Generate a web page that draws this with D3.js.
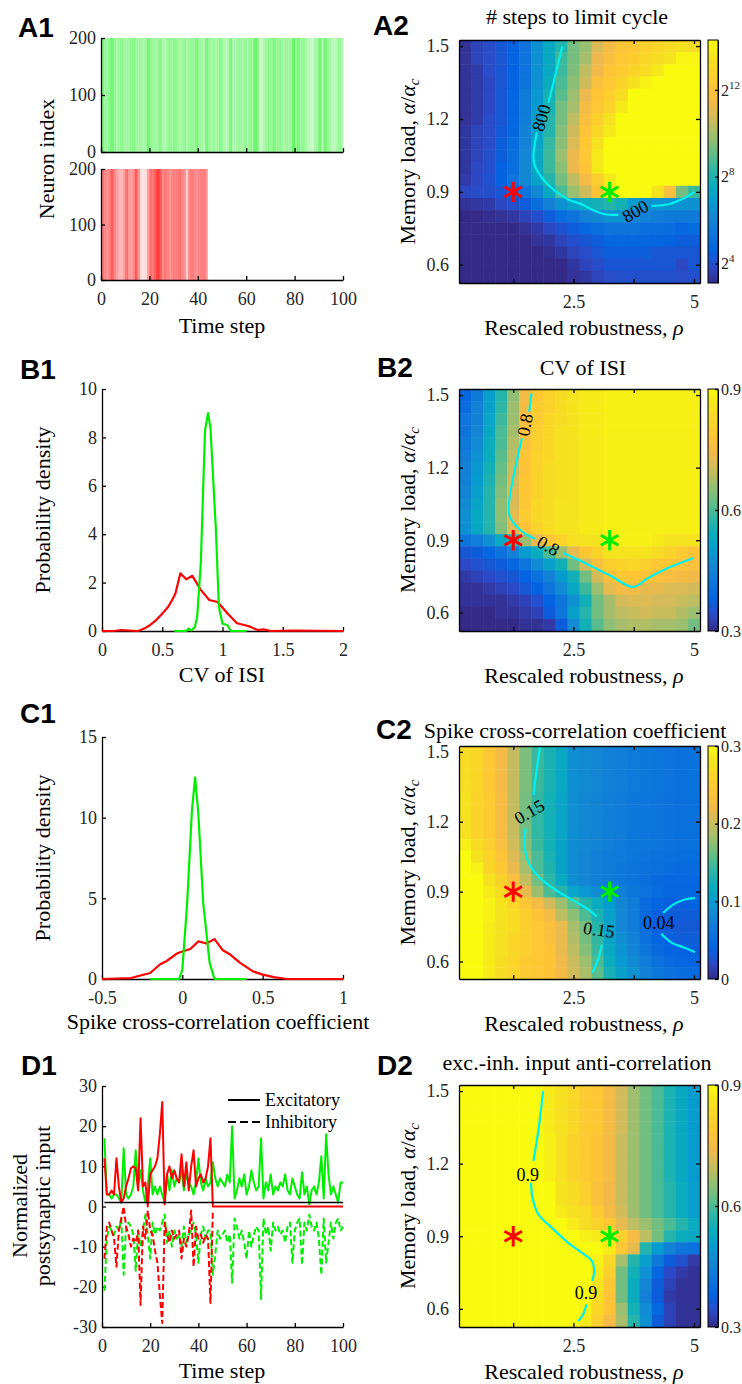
<!DOCTYPE html>
<html>
<head>
<meta charset="utf-8">
<script src="https://cdn.jsdelivr.net/npm/d3@7"></script>
<style>
  body { margin: 0; background: #fff; }
</style>
</head>
<body>
<svg id="fig" width="742" height="1384"></svg>
<script>
// ---------------- data ----------------

// A1: fraction of neurons firing in each time step (read from raster density)
const greenRate = [0.6,0.4,0.4,0.45,0.6,0.45,0.35,0.4,0.45,0.4, 0.35,0.4,0.45,0.5,0.4,0.35,0.4,0.3,0.4,0.6,
  0.45,0.4,0.35,0.4,0.5,0.35,0.3,0.4,0.45,0.4, 0.5,0.4,0.35,0.4,0.45,0.35,0.4,0.45,0.4,0.55,
  0.4,0.35,0.3,0.55,0.45,0.35,0.4,0.35,0.4,0.5, 0.35,0.25,0.35,0.55,0.35,0.3,0.4,0.4,0.35,0.45,
  0.35,0.45,0.4,0.6,0.6,0.2,0.25,0.35,0.4,0.45, 0.4,0.55,0.4,0.45,0.4,0.35,0.4,0.35,0.4,0.65,
  0.45,0.55,0.4,0.45,0.35,0.3,0.25,0.2,0.35,0.4, 0.6,0.3,0.6,0.45,0.35,0.3,0.25,0.35,0.4,0.35];
const redRate = [0.6,0.5,0.45,0.5,0.7,0.5,0.4,0.3,0.25,0.4, 0.6,0.45,0.35,0.5,0.7,0.45,0.15,0.1,0.15,0.4,
  0.6,0.55,0.7,0.85,0.7,0.5,0.55,0.5,0.45,0.5, 0.55,0.5,0.6,0.5,0.45,0.2,0.5,0.55,0.5,0.45,
  0.5,0.5,0.55,0.45];

// B1: CV of ISI densities, [cv, density]
const cvGreen = [[0.6,0],[0.7,0],[0.72,0.1],[0.74,0.02],[0.77,0.15],[0.79,0.6],[0.82,2.8],[0.855,8.3],[0.88,9.0],
  [0.9,8.4],[0.945,4.2],[0.97,1.0],[1.0,0.3],[1.04,0.25],[1.07,0],[1.2,0]];
const cvRed = [[0,0],[0.1,0],[0.16,0.04],[0.22,0.02],[0.3,0],[0.35,0.1],[0.4,0.25],[0.45,0.45],[0.49,0.66],[0.55,1.0],
  [0.59,1.35],[0.61,1.56],[0.65,2.38],[0.7,2.14],[0.75,2.28],[0.82,1.7],[0.89,1.28],[0.96,1.2],[1.04,0.73],
  [1.12,0.32],[1.18,0.25],[1.23,0.18],[1.29,0.04],[1.34,0.07],[1.4,0],[1.6,0.02],[2,0]];

// C1: spike cross-correlation densities, [coef, density]
const ccGreen = [[-0.2,0],[-0.02,0],[0.0,0.58],[0.03,4.7],[0.06,10.5],[0.08,12.5],[0.1,10.2],[0.13,4.7],[0.17,1.0],[0.2,0],[0.4,0]];
const ccRed = [[-0.5,0],[-0.32,0.06],[-0.2,0.37],[-0.14,0.9],[-0.1,1.1],[-0.03,1.6],[0.0,1.7],[0.05,1.86],[0.1,2.33],
  [0.15,2.2],[0.2,2.47],[0.25,1.8],[0.3,1.5],[0.36,1.0],[0.44,0.47],[0.5,0.27],[0.57,0.12],[0.65,0],[1,0]];

// D1: normalized postsynaptic input per time step (t = 1..100)
const greenExc = [17,3,3,2,3,3,2,1,14.5,3, 2,3,5,14,5,9,4,1,5,12, 3,5,3,5,3,1,8,4,9,5, 7,6,9,4,8,6,5,3,6,12,
  6,4,7,5,6,11,7,5,7,6, 5,8,6,20,2,4,7,5,8,3, 5,9,6,4,5,17,2,6,4,8, 3,5,4,6,5,8,4,3,7,5,
  3,2,8.5,3,5,0.5,4,5,3,6, 12.5,2,18,8,3,5,3,1,6,6];
const greenInh = [-21,-8,-5,-6,-7,-5,-6,-3,-17,-5, -4,-5,-7,-16,-6,-10,-6,-2,-7,-13, -4,-7,-5,-6,-4,-2,-9,-6,-10,-6,
  -8,-7,-10,-5,-9,-7,-6,-4,-7,-14, -7,-5,-8,-6,-6,-17,-12,-6,-8,-7, -6,-9,-7,-19,-3,-5,-8,-6,-9,-13,
  -6,-10,-7,-5,-6,-23,-3,-7,-5,-11, -4,-6,-5,-7,-6,-9,-5,-4,-14,-6, -4,-3,-14.5,-4,-6,-2,-5,-6,-4,-8,
  -17,-3,-14,-9,-4,-8,-4,-3,-6,-5];
const redExc = [12,3,3,4,3,12,5,1,2,5, 7,9.5,10,9.5,4,22,5,6,0,8, 9,10,12,18,26,0.5,8,10,7,9,
  7,6,13,5,11,4,10,14,5,7, 8,6,7,10,17,0,0,0,0,0, 0,0,0,0,0,0,0,0,0,0, 0,0,0,0,0,0,0,0,0,0,
  0,0,0,0,0,0,0,0,0,0, 0,0,0,0,0,0,0,0,0,0, 0,0,0,0,0,0,0,0,0,0];
const redInh = [-13,-5,-4,-6,-8,-15,-6,-3,0,-5, -7,-10,-8,-9,-6,-24.5,-5,-8,-1,-6,
  -7,-11,-14,-22,-29,-4,-7,-9,-6,-8, -7,-6,-13,-8,-10,-7,-1,-15,-5,-8, -7,-9,-7,-8,-24,-1];
const refLevel = 1;

// phase diagrams: cell centres
const rho = [0.25,0.5,0.75,1,1.25,1.5,1.75,2,2.25,2.5,2.75,3,3.25,3.5,3.75,4,4.25,4.5,4.75,5];
const alpha = [1.5,1.45,1.4,1.35,1.3,1.25,1.2,1.15,1.1,1.05,1.0,0.95,0.9,0.85,0.8,0.75,0.7,0.65,0.6,0.55];
const rhoTicks = [1.25,2.5,3.75,5];
const rhoTickLabels = ["","2.5","","5"];
const alphaTicks = [0.6,0.9,1.2,1.5];
const starRed = [1.25,0.9];
const starGreen = [3.25,0.9];

// A2: log2(# steps to limit cycle), rows from alpha = 1.5 down to 0.55
const limitCycle = [
  [3.3,3.7,3.9,4.2,4.6,5.3,6.5,7.4,8.1,9.3,9.8,10.9,11.5,12.1,12.3,12.6,13.0,13.2,13.4,13.2],
  [3.3,3.7,3.9,4.2,4.6,5.3,6.5,7.4,8.5,9.3,10.0,11.2,11.8,12.3,12.5,13.0,13.2,13.5,14.1,14.1],
  [3.3,3.5,3.9,4.2,4.6,5.3,6.5,7.4,8.5,9.4,10.4,11.3,12.1,12.4,12.8,13.2,13.7,14.3,14.3,14.3],
  [3.3,3.5,3.8,4.2,4.6,5.3,6.5,7.6,8.7,9.6,10.7,11.8,12.3,12.8,13.4,14.0,14.3,14.3,14.3,14.3],
  [3.3,3.5,3.8,4.2,4.7,5.6,6.7,7.8,8.9,9.8,11.2,12.1,12.6,13.2,14.3,14.3,14.3,14.3,14.3,14.3],
  [3.3,3.5,3.8,4.2,4.8,5.6,6.8,7.9,9.3,10.0,11.5,12.3,12.8,13.7,14.3,14.3,14.3,14.3,14.3,14.3],
  [3.3,3.5,3.9,4.2,4.8,5.7,7.0,8.1,9.3,10.4,11.8,12.6,13.4,14.3,14.3,14.3,14.3,14.3,14.3,14.3],
  [3.4,3.7,3.9,4.3,4.8,5.9,7.1,8.1,9.5,10.7,12.1,13.0,13.7,14.3,14.3,14.3,14.3,14.3,14.3,14.3],
  [3.4,3.7,3.9,4.4,5.0,5.9,7.2,8.4,9.6,10.9,12.3,13.4,14.3,14.3,14.3,14.3,14.3,14.3,14.3,14.3],
  [3.4,3.7,4.0,4.4,5.1,6.1,7.4,8.5,9.8,11.2,12.3,13.7,14.3,14.3,14.3,14.3,14.3,14.3,14.3,14.3],
  [3.4,3.8,4.0,4.6,5.1,6.2,7.4,8.5,9.6,11.2,12.1,13.7,14.3,14.3,14.3,14.3,14.3,14.3,14.3,14.3],
  [3.5,3.8,4.1,4.6,5.3,6.2,7.1,8.1,9.3,10.4,11.5,12.6,13.7,14.3,14.3,14.3,14.3,14.3,14.3,14.3],
  [3.8,3.9,4.0,4.2,4.7,5.3,6.2,7.4,8.7,9.8,10.7,12.1,13.2,14.3,14.3,14.3,13.5,11.8,9.3,8.5],
  [3.3,3.4,3.5,3.8,4.0,4.4,5.1,5.9,6.5,7.0,7.6,7.8,8.1,7.8,6.8,6.5,6.5,6.5,6.5,6.5],
  [3.1,3.1,3.2,3.3,3.4,3.7,4.0,4.4,5.0,5.3,5.9,6.2,6.5,6.5,6.1,5.9,5.8,5.6,5.6,5.6],
  [3.1,3.1,3.1,3.1,3.1,3.3,3.5,3.8,4.1,4.4,4.8,5.1,5.3,5.3,5.3,5.1,5.1,5.0,4.8,5.0],
  [3.1,3.1,3.1,3.1,3.1,3.1,3.3,3.4,3.7,4.0,4.2,4.4,4.8,4.8,4.8,4.7,4.7,4.6,4.4,4.4],
  [3.1,3.1,3.1,3.1,3.1,3.1,3.1,3.2,3.4,3.7,3.9,4.2,4.4,4.4,4.4,4.4,4.2,4.2,4.2,4.2],
  [3.1,3.1,3.1,3.1,3.1,3.1,3.1,3.1,3.1,3.4,3.7,3.9,4.2,4.2,4.2,4.2,4.2,4.2,3.8,4.2],
  [3.1,3.1,3.1,3.1,3.1,3.1,3.1,3.1,3.1,3.3,3.4,3.7,3.9,4.0,4.0,4.0,4.0,4.0,3.9,4.0]];

// B2: CV of ISI
const cvGrid = [
  [0.39,0.43,0.51,0.57,0.65,0.75,0.79,0.82,0.84,0.86,0.87,0.87,0.88,0.88,0.88,0.88,0.88,0.88,0.88,0.88],
  [0.40,0.45,0.51,0.58,0.66,0.75,0.80,0.82,0.84,0.86,0.87,0.87,0.88,0.88,0.88,0.88,0.88,0.88,0.88,0.88],
  [0.42,0.45,0.52,0.59,0.66,0.76,0.80,0.83,0.84,0.86,0.87,0.87,0.88,0.88,0.88,0.88,0.88,0.88,0.88,0.88],
  [0.42,0.46,0.53,0.60,0.67,0.77,0.81,0.83,0.85,0.86,0.87,0.87,0.88,0.88,0.88,0.88,0.88,0.88,0.88,0.88],
  [0.43,0.47,0.54,0.60,0.68,0.77,0.81,0.83,0.85,0.86,0.87,0.87,0.88,0.88,0.88,0.88,0.88,0.88,0.88,0.88],
  [0.44,0.48,0.54,0.61,0.69,0.78,0.82,0.83,0.85,0.86,0.87,0.87,0.88,0.88,0.88,0.88,0.88,0.88,0.88,0.88],
  [0.45,0.49,0.55,0.62,0.70,0.78,0.82,0.84,0.85,0.86,0.87,0.87,0.88,0.88,0.88,0.88,0.88,0.88,0.88,0.88],
  [0.45,0.50,0.56,0.63,0.71,0.79,0.82,0.84,0.85,0.86,0.87,0.87,0.88,0.88,0.88,0.88,0.88,0.88,0.88,0.88],
  [0.46,0.51,0.57,0.64,0.72,0.79,0.82,0.84,0.85,0.86,0.87,0.87,0.88,0.88,0.88,0.88,0.88,0.88,0.88,0.88],
  [0.47,0.52,0.57,0.65,0.72,0.79,0.83,0.84,0.86,0.86,0.87,0.87,0.88,0.88,0.88,0.88,0.88,0.88,0.88,0.88],
  [0.48,0.53,0.57,0.65,0.73,0.80,0.83,0.84,0.86,0.86,0.87,0.87,0.88,0.88,0.88,0.88,0.88,0.88,0.88,0.88],
  [0.48,0.53,0.57,0.64,0.72,0.78,0.82,0.84,0.86,0.86,0.87,0.87,0.88,0.88,0.88,0.88,0.88,0.88,0.88,0.88],
  [0.42,0.44,0.48,0.53,0.57,0.66,0.73,0.79,0.82,0.85,0.86,0.86,0.87,0.88,0.88,0.88,0.87,0.86,0.86,0.86],
  [0.36,0.37,0.39,0.41,0.45,0.50,0.54,0.60,0.66,0.73,0.79,0.82,0.86,0.86,0.86,0.86,0.84,0.82,0.80,0.78],
  [0.34,0.35,0.36,0.37,0.39,0.42,0.47,0.51,0.55,0.63,0.71,0.77,0.81,0.82,0.83,0.81,0.79,0.79,0.78,0.77],
  [0.32,0.33,0.34,0.35,0.36,0.38,0.41,0.45,0.50,0.55,0.63,0.71,0.77,0.79,0.79,0.78,0.77,0.76,0.75,0.74],
  [0.31,0.31,0.32,0.33,0.34,0.36,0.38,0.42,0.47,0.53,0.59,0.66,0.73,0.75,0.75,0.73,0.73,0.72,0.72,0.71],
  [0.31,0.31,0.31,0.31,0.32,0.33,0.35,0.38,0.42,0.48,0.55,0.63,0.67,0.71,0.72,0.72,0.71,0.71,0.70,0.69],
  [0.30,0.30,0.30,0.31,0.31,0.32,0.33,0.37,0.42,0.51,0.57,0.63,0.67,0.69,0.70,0.71,0.70,0.70,0.68,0.66],
  [0.30,0.30,0.30,0.30,0.30,0.31,0.31,0.32,0.37,0.47,0.55,0.61,0.65,0.67,0.68,0.68,0.67,0.67,0.66,0.63]];

// C2: spike cross-correlation coefficient
const ccGrid = [
  [0.270,0.264,0.246,0.225,0.198,0.168,0.144,0.129,0.114,0.089,0.084,0.079,0.074,0.071,0.066,0.064,0.061,0.059,0.056,0.056],
  [0.270,0.264,0.246,0.225,0.198,0.168,0.144,0.129,0.114,0.089,0.084,0.079,0.074,0.071,0.066,0.064,0.061,0.059,0.056,0.056],
  [0.270,0.264,0.246,0.225,0.198,0.168,0.144,0.129,0.114,0.089,0.084,0.079,0.074,0.071,0.066,0.064,0.061,0.059,0.056,0.056],
  [0.273,0.264,0.246,0.225,0.198,0.168,0.144,0.129,0.114,0.089,0.084,0.079,0.074,0.071,0.066,0.064,0.061,0.059,0.056,0.056],
  [0.276,0.261,0.249,0.228,0.198,0.165,0.141,0.126,0.110,0.089,0.082,0.077,0.071,0.069,0.064,0.061,0.059,0.056,0.054,0.054],
  [0.276,0.261,0.249,0.228,0.198,0.165,0.141,0.126,0.110,0.089,0.082,0.077,0.071,0.069,0.064,0.061,0.059,0.056,0.054,0.054],
  [0.276,0.261,0.249,0.228,0.198,0.165,0.141,0.126,0.110,0.089,0.082,0.077,0.071,0.069,0.064,0.061,0.059,0.056,0.054,0.054],
  [0.276,0.261,0.249,0.228,0.198,0.165,0.141,0.126,0.110,0.089,0.082,0.077,0.071,0.069,0.064,0.061,0.059,0.056,0.054,0.054],
  [0.288,0.270,0.255,0.231,0.204,0.171,0.144,0.126,0.108,0.087,0.082,0.077,0.071,0.066,0.064,0.061,0.059,0.056,0.054,0.054],
  [0.300,0.276,0.261,0.240,0.210,0.180,0.150,0.129,0.108,0.087,0.079,0.074,0.069,0.066,0.061,0.059,0.056,0.054,0.051,0.051],
  [0.300,0.291,0.264,0.246,0.216,0.186,0.150,0.132,0.108,0.087,0.079,0.074,0.069,0.064,0.059,0.056,0.054,0.051,0.048,0.048],
  [0.300,0.300,0.276,0.258,0.231,0.198,0.165,0.138,0.115,0.089,0.079,0.074,0.069,0.064,0.059,0.054,0.048,0.046,0.046,0.046],
  [0.300,0.300,0.285,0.270,0.255,0.216,0.180,0.150,0.135,0.110,0.095,0.086,0.079,0.071,0.063,0.057,0.051,0.044,0.044,0.044],
  [0.300,0.300,0.291,0.279,0.264,0.246,0.225,0.204,0.180,0.156,0.135,0.120,0.100,0.082,0.068,0.050,0.042,0.037,0.037,0.040],
  [0.300,0.300,0.291,0.279,0.270,0.255,0.240,0.225,0.195,0.174,0.150,0.129,0.105,0.082,0.068,0.048,0.037,0.034,0.034,0.034],
  [0.300,0.300,0.285,0.276,0.270,0.255,0.246,0.234,0.216,0.186,0.165,0.135,0.108,0.082,0.068,0.050,0.037,0.034,0.031,0.031],
  [0.300,0.300,0.285,0.276,0.264,0.255,0.246,0.234,0.216,0.189,0.165,0.141,0.110,0.088,0.074,0.056,0.042,0.037,0.034,0.034],
  [0.300,0.300,0.285,0.276,0.264,0.255,0.246,0.240,0.216,0.195,0.171,0.144,0.115,0.092,0.078,0.062,0.048,0.042,0.040,0.037],
  [0.300,0.300,0.285,0.270,0.264,0.249,0.246,0.240,0.219,0.201,0.180,0.150,0.120,0.098,0.084,0.070,0.056,0.048,0.045,0.042],
  [0.300,0.300,0.285,0.270,0.264,0.249,0.246,0.240,0.225,0.204,0.186,0.156,0.128,0.106,0.090,0.076,0.062,0.056,0.051,0.048]];

// D2: exc.-inh. input anti-correlation
const eiGrid = [
  [0.92,0.92,0.92,0.92,0.92,0.92,0.92,0.87,0.85,0.83,0.80,0.79,0.75,0.71,0.66,0.63,0.60,0.56,0.53,0.50],
  [0.92,0.92,0.92,0.92,0.92,0.92,0.92,0.87,0.85,0.83,0.80,0.79,0.75,0.71,0.66,0.63,0.60,0.56,0.53,0.50],
  [0.92,0.92,0.92,0.92,0.92,0.92,0.92,0.87,0.85,0.83,0.80,0.79,0.75,0.71,0.66,0.63,0.60,0.56,0.53,0.50],
  [0.92,0.92,0.92,0.92,0.92,0.92,0.92,0.87,0.85,0.83,0.80,0.79,0.75,0.71,0.66,0.63,0.60,0.56,0.53,0.50],
  [0.92,0.92,0.92,0.92,0.92,0.92,0.92,0.88,0.85,0.82,0.80,0.78,0.75,0.70,0.66,0.63,0.60,0.56,0.53,0.50],
  [0.92,0.92,0.92,0.92,0.92,0.92,0.92,0.88,0.85,0.82,0.80,0.78,0.75,0.70,0.66,0.63,0.60,0.56,0.53,0.50],
  [0.92,0.92,0.92,0.92,0.92,0.92,0.92,0.88,0.85,0.82,0.80,0.78,0.75,0.70,0.66,0.63,0.60,0.56,0.53,0.50],
  [0.92,0.92,0.92,0.92,0.92,0.92,0.92,0.88,0.85,0.82,0.80,0.78,0.75,0.70,0.66,0.63,0.60,0.56,0.53,0.50],
  [0.92,0.92,0.92,0.92,0.92,0.92,0.92,0.92,0.86,0.84,0.81,0.77,0.74,0.70,0.66,0.63,0.60,0.57,0.54,0.51],
  [0.92,0.92,0.92,0.92,0.92,0.92,0.92,0.92,0.86,0.84,0.81,0.77,0.74,0.70,0.66,0.63,0.60,0.57,0.54,0.51],
  [0.92,0.92,0.92,0.92,0.92,0.92,0.92,0.92,0.87,0.85,0.84,0.80,0.75,0.71,0.66,0.63,0.60,0.57,0.54,0.51],
  [0.92,0.92,0.92,0.92,0.92,0.92,0.92,0.92,0.92,0.87,0.84,0.82,0.79,0.73,0.69,0.66,0.63,0.60,0.57,0.54],
  [0.92,0.92,0.92,0.92,0.92,0.92,0.92,0.92,0.92,0.92,0.88,0.87,0.86,0.81,0.75,0.69,0.63,0.57,0.54,0.53],
  [0.92,0.92,0.92,0.92,0.92,0.92,0.92,0.92,0.92,0.92,0.92,0.90,0.87,0.79,0.73,0.57,0.50,0.45,0.42,0.41],
  [0.92,0.92,0.92,0.92,0.92,0.92,0.92,0.92,0.92,0.92,0.92,0.88,0.83,0.67,0.57,0.51,0.43,0.37,0.35,0.32],
  [0.92,0.92,0.92,0.92,0.92,0.92,0.92,0.92,0.92,0.92,0.92,0.87,0.81,0.63,0.55,0.48,0.39,0.34,0.32,0.31],
  [0.92,0.92,0.92,0.92,0.92,0.92,0.92,0.92,0.92,0.92,0.92,0.86,0.79,0.63,0.54,0.46,0.37,0.33,0.31,0.31],
  [0.92,0.92,0.92,0.92,0.92,0.92,0.92,0.92,0.92,0.92,0.92,0.84,0.78,0.63,0.54,0.45,0.37,0.32,0.31,0.31],
  [0.92,0.92,0.92,0.92,0.92,0.92,0.92,0.92,0.92,0.92,0.88,0.83,0.78,0.66,0.55,0.47,0.39,0.33,0.31,0.31],
  [0.92,0.92,0.92,0.92,0.92,0.92,0.92,0.92,0.92,0.92,0.87,0.81,0.75,0.67,0.57,0.48,0.37,0.33,0.31,0.31]];

// contour lines, [rho, alpha]; null = gap for the label
const contourA2 = [[[2.27,1.50],[2.12,1.377],[1.98,1.267],null,[1.74,1.144],[1.67,1.048],[1.70,1.006],[1.87,0.952],
  [2.12,0.904],[2.39,0.869],[2.67,0.849],[2.95,0.821],[3.15,0.808],[3.43,0.805],null,[4.12,0.842],[4.47,0.849],[4.81,0.876],[5.01,0.90]]];
const labelsA2 = [["800",1.83,1.205,-73],["800",3.78,0.821,-30]];
const contourB2 = [[[1.63,1.507],[1.58,1.431],null,[1.43,1.322],[1.32,1.225],[1.22,1.129],[1.16,1.047],[1.18,0.998],
  [1.32,0.957],[1.53,0.923],[1.70,0.906],null,[2.29,0.847],[2.81,0.799],[3.29,0.751],[3.74,0.707],[4.05,0.744],[4.47,0.786],[4.99,0.827]]];
const labelsB2 = [["0.8",1.49,1.377,-80],["0.8",1.98,0.878,30]];
const contourC2 = [
  [[1.81,1.525],[1.74,1.428],[1.67,1.314],null,[1.51,1.171],[1.48,1.115],[1.56,1.029],[1.77,0.965],[2.12,0.908],
   [2.53,0.858],[2.81,0.823],[2.98,0.794],null,[3.09,0.673],[3.02,0.616],[2.89,0.552]],
  [[5.02,0.872],[4.81,0.866],[4.57,0.844],[4.36,0.808],null,[4.32,0.719],[4.54,0.680],[4.81,0.659],[5.02,0.640]]];
const labelsC2 = [["0.15",1.58,1.243,-30],["0.15",3.03,0.737,8],["0.04",4.27,0.766,0]];
const contourD2 = [[[1.87,1.50],[1.77,1.335],[1.67,1.211],null,[1.62,1.121],[1.65,1.059],[1.77,0.991],[2.05,0.935],
  [2.39,0.873],[2.67,0.832],[2.88,0.798],[2.93,0.756],[2.89,0.715],null,[2.77,0.619],[2.70,0.577],[2.60,0.550]]];
const labelsD2 = [["0.9",1.55,1.153,0],["0.9",2.76,0.667,0]];

// MATLAB parula colormap stops
const parulaStops = ["#352a87","#2c4ac7","#0363e1","#0d75dc","#1485d4","#079ccf","#0aacbe","#2eb7a4",
  "#65be86","#9bbf6f","#c8bc5d","#f1b94a","#fec337","#fad32a","#f5e41d","#f9fb0e"];

// ---------------- drawing ----------------
const svg = d3.select("#fig");
const SERIF = '"Liberation Serif","Times New Roman",serif';
const GREEN = "#00ee00", RED = "#ff0000", CYAN = "#00f0f0";
const parula = d3.piecewise(d3.interpolateRgb, parulaStops);

svg.append("rect").attr("width", 742).attr("height", 1384).attr("fill", "#fff");

const grad = svg.append("defs").append("linearGradient").attr("id", "parulaGrad")
  .attr("x1", 0).attr("y1", 1).attr("x2", 0).attr("y2", 0);
parulaStops.forEach((c, i) => grad.append("stop").attr("offset", i / (parulaStops.length - 1)).attr("stop-color", c));

function styleAxis(sel) {
  sel.attr("font-family", SERIF).attr("font-size", 18);
  sel.select(".domain").attr("stroke", "#000").attr("stroke-width", 1.3);
  sel.selectAll(".tick line").attr("stroke", "#000").attr("stroke-width", 1.3);
  sel.selectAll(".tick text").attr("fill", "#262626");
}

function panelLetter(txt, x, y) {
  svg.append("text").attr("x", x).attr("y", y).attr("font-family", '"Liberation Sans",Arial,sans-serif')
    .attr("font-weight", "bold").attr("font-size", 28).attr("fill", "#000").text(txt);
}

function label(txt, x, y, rot) {
  return svg.append("text").attr("transform", `translate(${x},${y})` + (rot ? ` rotate(${rot})` : ""))
    .attr("text-anchor", "middle").attr("font-family", SERIF).attr("font-size", 22).attr("fill", "#000").text(txt);
}

// ---- A1 raster ----
const xT = d3.scaleLinear().domain([0, 100]).range([101, 343]);
function raster(rates, color, top, bottom, showLabels) {
  const y = d3.scaleLinear().domain([0, 200]).range([bottom, top]);
  const g = svg.append("g");
  g.selectAll("rect").data(rates).join("rect")
    .attr("x", (d, i) => xT(i)).attr("width", xT(1) - xT(0) + 0.3)
    .attr("y", y(200)).attr("height", y(0) - y(200))
    .attr("fill", color).attr("fill-opacity", d => Math.min(1, d * 0.9));
  g.append("g").attr("transform", `translate(0,${bottom})`)
    .call(d3.axisBottom(xT).tickValues([0,20,40,60,80,100]).tickSize(-4).tickSizeOuter(0).tickPadding(12)
      .tickFormat(showLabels ? d => String(d) : () => ""))
    .call(styleAxis);
  g.append("g").attr("transform", `translate(${xT(0)},0)`)
    .call(d3.axisLeft(y).tickValues([0,100,200]).tickSize(-4).tickSizeOuter(0).tickPadding(5))
    .call(styleAxis);
}
raster(greenRate, GREEN, 38, 152, false);
raster(redRate, RED, 169, 280, true);
label("Neuron index", 54, 159, -90);
label("Time step", 222, 333);
panelLetter("A1", 18, 37);

// ---- density panels B1, C1 ----
function densityPanel(cfg) {
  const x = d3.scaleLinear().domain(cfg.xDomain).range([102, 343]);
  const y = d3.scaleLinear().domain(cfg.yDomain).range([cfg.bottom, cfg.top]);
  const g = svg.append("g");
  g.append("g").attr("transform", `translate(0,${cfg.bottom})`)
    .call(d3.axisBottom(x).tickValues(cfg.xTicks).tickSize(-4).tickSizeOuter(0).tickPadding(12).tickFormat(d => String(d)))
    .call(styleAxis);
  g.append("g").attr("transform", `translate(102,0)`)
    .call(d3.axisLeft(y).tickValues(cfg.yTicks).tickSize(-4).tickSizeOuter(0).tickPadding(5).tickFormat(d => String(d)))
    .call(styleAxis);
  const line = d3.line().x(d => x(d[0])).y(d => y(d[1]));
  cfg.series.forEach(s => g.append("path").attr("d", line(s.data)).attr("fill", "none")
    .attr("stroke", s.color).attr("stroke-width", 2.2).attr("stroke-linejoin", "round"));
}
densityPanel({xDomain: [0, 2], yDomain: [0, 10], top: 389, bottom: 631,
  xTicks: [0,0.5,1,1.5,2], yTicks: [0,2,4,6,8,10],
  series: [{data: cvRed, color: RED}, {data: cvGreen, color: GREEN}]});
label("Probability density", 50, 510, -90);
label("CV of ISI", 222, 682);
panelLetter("B1", 20, 379);

densityPanel({xDomain: [-0.5, 1], yDomain: [0, 15], top: 737, bottom: 979,
  xTicks: [-0.5,0,0.5,1], yTicks: [0,5,10,15],
  series: [{data: ccRed, color: RED}, {data: ccGreen, color: GREEN}]});
label("Probability density", 50, 858, -90);
label("Spike cross-correlation coefficient", 218, 1029);
panelLetter("C1", 20, 723);

// ---- D1 input traces ----
(function () {
  const x = d3.scaleLinear().domain([0, 100]).range([102, 343]);
  const y = d3.scaleLinear().domain([-30, 30]).range([1327, 1086]);
  const g = svg.append("g");
  g.append("g").attr("transform", `translate(0,1327)`)
    .call(d3.axisBottom(x).tickValues([0,20,40,60,80,100]).tickSize(-4).tickSizeOuter(0).tickPadding(12))
    .call(styleAxis);
  g.append("g").attr("transform", `translate(102,0)`)
    .call(d3.axisLeft(y).tickValues([-30,-20,-10,0,10,20,30]).tickSize(-4).tickSizeOuter(0).tickPadding(5).tickFormat(d => String(d)))
    .call(styleAxis);
  const line = d3.line().x((d, i) => x(i + 1)).y(d => y(d));
  const trace = (data, color, dashed) => g.append("path").attr("d", line(data)).attr("fill", "none")
    .attr("stroke", color).attr("stroke-width", 2).attr("stroke-linejoin", "round")
    .attr("stroke-dasharray", dashed ? "6,3" : null);
  trace(greenInh, GREEN, true);
  trace(greenExc, GREEN, false);
  trace(redInh, RED, true);
  trace(redExc, RED, false);
  g.append("line").attr("x1", x(1)).attr("x2", x(100)).attr("y1", y(refLevel)).attr("y2", y(refLevel))
    .attr("stroke", "#000").attr("stroke-width", 1.5);
  // legend
  const lg = g.append("g").attr("font-family", SERIF).attr("font-size", 18);
  lg.append("line").attr("x1", 228).attr("x2", 260).attr("y1", 1100).attr("y2", 1100).attr("stroke", "#000").attr("stroke-width", 2);
  lg.append("text").attr("x", 265).attr("y", 1106).text("Excitatory");
  lg.append("line").attr("x1", 228).attr("x2", 260).attr("y1", 1122).attr("y2", 1122).attr("stroke", "#000")
    .attr("stroke-width", 2).attr("stroke-dasharray", "8,4");
  lg.append("text").attr("x", 265).attr("y", 1128).text("Inhibitory");
})();
label("Normalized", 27, 1206, -90);
label("postsynaptic input", 50, 1206, -90);
label("Time step", 222, 1378);
panelLetter("D1", 21, 1075);

// ---- phase diagrams ----
function phasePanel(p) {
  const x = d3.scaleLinear().domain([0.125, 5.125]).range([459, 700]);
  const y = d3.scaleLinear().domain([0.525, 1.525]).range([p.bottom, p.top]);
  const color = d3.scaleSequential(parula).domain(p.domain).clamp(true);
  const cells = [];
  p.grid.forEach((row, i) => row.forEach((v, j) => cells.push({r: rho[j], a: alpha[i], v})));
  const g = svg.append("g");
  g.selectAll("rect").data(cells).join("rect")
    .attr("x", d => x(d.r - 0.125)).attr("y", d => y(d.a + 0.025))
    .attr("width", d => x(d.r + 0.125) - x(d.r - 0.125) + 0.5)
    .attr("height", d => y(d.a - 0.025) - y(d.a + 0.025) + 0.5)
    .attr("fill", d => color(d.v));

  const line = d3.line().defined(d => d !== null).x(d => x(d[0])).y(d => y(d[1])).curve(d3.curveCatmullRom);
  p.contours.forEach(c => g.append("path").attr("d", line(c)).attr("fill", "none")
    .attr("stroke", CYAN).attr("stroke-width", 2.2));
  p.labels.forEach(l => g.append("text")
    .attr("transform", `translate(${x(l[1])},${y(l[2])}) rotate(${l[3]})`)
    .attr("text-anchor", "middle").attr("dy", "0.35em")
    .attr("font-family", SERIF).attr("font-size", 18).attr("fill", "#000").text(l[0]));

  const star = d3.symbol().type(d3.symbolAsterisk).size(290);
  [[starRed, RED], [starGreen, GREEN]].forEach(([s, c]) => g.append("path").attr("d", star())
    .attr("transform", `translate(${x(s[0])},${y(s[1])})`)
    .attr("fill", "none").attr("stroke", c).attr("stroke-width", 3));

  // box with inward ticks
  g.append("g").attr("transform", `translate(0,${p.bottom})`)
    .call(d3.axisBottom(x).tickValues(rhoTicks).tickSize(-4).tickSizeOuter(0).tickPadding(12)
      .tickFormat((d, i) => rhoTickLabels[i])).call(styleAxis);
  g.append("g").attr("transform", `translate(0,${p.top})`)
    .call(d3.axisTop(x).tickValues(rhoTicks).tickSize(-4).tickSizeOuter(0).tickFormat(() => "")).call(styleAxis);
  g.append("g").attr("transform", `translate(459,0)`)
    .call(d3.axisLeft(y).tickValues(alphaTicks).tickSize(-4).tickSizeOuter(0).tickPadding(10)
      .tickFormat(d3.format(".1f"))).call(styleAxis);
  g.append("g").attr("transform", `translate(700,0)`)
    .call(d3.axisRight(y).tickValues(alphaTicks).tickSize(-4).tickSizeOuter(0).tickFormat(() => "")).call(styleAxis);

  // colour bar
  const cb = d3.scaleLinear().domain(p.domain).range([p.bottom, p.top]);
  g.append("rect").attr("x", 708).attr("y", p.top).attr("width", 10).attr("height", p.bottom - p.top)
    .attr("fill", "url(#parulaGrad)").attr("stroke", "#000").attr("stroke-width", 1);
  const cbAxis = g.append("g").attr("transform", `translate(718,0)`)
    .call(d3.axisRight(cb).tickValues(p.cbTicks).tickSize(-3).tickSizeOuter(0).tickPadding(3)
      .tickFormat(d => String(d))).call(styleAxis);
  cbAxis.attr("font-size", 16);
  cbAxis.select(".domain").attr("stroke-width", 1);
  if (p.pow2) {
    cbAxis.selectAll(".tick text").text(null).each(function (d) {
      const t = d3.select(this);
      t.append("tspan").text("2");
      t.append("tspan").attr("dy", -7).attr("font-size", 11).text(d);
    });
  }

  // labels
  const yl = svg.append("text").attr("transform", `translate(415,${(p.top + p.bottom) / 2}) rotate(-90)`)
    .attr("text-anchor", "middle").attr("font-family", SERIF).attr("font-size", 22).attr("fill", "#000");
  yl.append("tspan").text("Memory load, ");
  yl.append("tspan").attr("font-style", "italic").text("α");
  yl.append("tspan").text("/");
  yl.append("tspan").attr("font-style", "italic").text("α");
  yl.append("tspan").attr("font-style", "italic").attr("font-size", 15).attr("dy", 4).text("c");
  const xl = svg.append("text").attr("x", 584).attr("y", p.bottom + 52)
    .attr("text-anchor", "middle").attr("font-family", SERIF).attr("font-size", 22).attr("fill", "#000");
  xl.append("tspan").text("Rescaled robustness, ");
  xl.append("tspan").attr("font-style", "italic").text("ρ");
  label(p.title, p.titleX || 577, p.titleY);
}

phasePanel({grid: limitCycle, domain: [3.1, 14.3], top: 40, bottom: 283, cbTicks: [4, 8, 12], pow2: true,
  contours: contourA2, labels: labelsA2, title: "# steps to limit cycle", titleY: 24});
panelLetter("A2", 373, 35);

phasePanel({grid: cvGrid, domain: [0.3, 0.9], top: 389, bottom: 631, cbTicks: [0.3, 0.6, 0.9],
  contours: contourB2, labels: labelsB2, title: "CV of ISI", titleX: 583, titleY: 375});
panelLetter("B2", 377, 377);

phasePanel({grid: ccGrid, domain: [0, 0.3], top: 746, bottom: 979, cbTicks: [0, 0.1, 0.2, 0.3],
  contours: contourC2, labels: labelsC2, title: "Spike cross-correlation coefficient", titleX: 575, titleY: 738});
panelLetter("C2", 376, 739);

phasePanel({grid: eiGrid, domain: [0.3, 0.9], top: 1085, bottom: 1327, cbTicks: [0.3, 0.6, 0.9],
  contours: contourD2, labels: labelsD2, title: "exc.-inh. input anti-correlation", titleY: 1070});
panelLetter("D2", 377, 1075);
</script>
</body>
</html>
